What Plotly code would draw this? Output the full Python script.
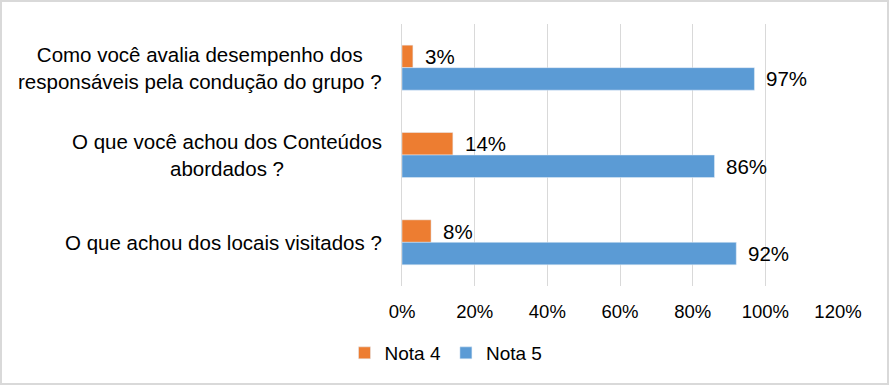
import plotly.graph_objects as go

categories = [
    "Como você avalia desempenho dos<br>responsáveis pela condução do grupo ?",
    "O que você achou dos Conteúdos<br>abordados ?",
    "O que achou dos locais visitados ?",
]
nota4 = [0.03, 0.14, 0.08]
nota5 = [0.97, 0.86, 0.92]
x_ticks = [0, 0.2, 0.4, 0.6, 0.8, 1.0, 1.2]
x_tick_labels = ["0%", "20%", "40%", "60%", "80%", "100%", "120%"]

W, H = 889, 385
L, R, T, B = 402, 51, 24, 99
pw, ph = W - L - R, H - T - B
BAND = ph / len(categories)
BAR_PX = 22.5

FONT = "Liberation Sans, Arial, sans-serif"
ORANGE = "#ED7D31"
BLUE = "#5B9BD5"

fig = go.Figure()
fig.add_trace(go.Bar(y=categories, x=nota4, name="Nota 4", orientation="h",
                     marker_color=ORANGE))
fig.add_trace(go.Bar(y=categories, x=nota5, name="Nota 5", orientation="h",
                     marker_color=BLUE))

annotations = []
for c in categories:
    annotations.append(dict(
        x=0, xref="paper", y=c, yref="y", text=c, showarrow=False,
        xanchor="right", yanchor="middle", align="center", xshift=-18,
        font=dict(size=20.5, color="#000000", family=FONT),
    ))
for vals, shift in ((nota4, BAR_PX / 2), (nota5, -BAR_PX / 2)):
    for c, v in zip(categories, vals):
        annotations.append(dict(
            x=v, xref="x", y=c, yref="y", text=f"{round(v * 100)}%",
            showarrow=False, xanchor="left", yanchor="middle",
            xshift=10, yshift=shift,
            font=dict(size=20.5, color="#000000", family=FONT),
        ))

fig.update_layout(
    width=W, height=H,
    margin=dict(l=L, r=R, t=T, b=B),
    paper_bgcolor="white", plot_bgcolor="white",
    barmode="group", bargap=1 - 2 * BAR_PX / BAND, bargroupgap=0,
    font=dict(family=FONT, size=18.5, color="#000000"),
    showlegend=True,
    legend=dict(orientation="h", xref="container", x=446 / W, xanchor="center",
                yref="container", y=1 - 353 / H, yanchor="middle",
                font=dict(size=19), itemwidth=30, traceorder="normal"),
    annotations=annotations,
    shapes=[dict(type="rect", xref="paper", yref="paper",
                 x0=(1 - L) / pw, x1=(W - 1 - L) / pw,
                 y0=-(H - 1 - T - ph) / ph, y1=(T - 1) / ph + 1,
                 line=dict(color="#D9D9D9", width=2))],
)
fig.update_xaxes(range=[0, 1.2], tickvals=x_ticks, ticktext=x_tick_labels,
                 showgrid=True, gridcolor="#D9D9D9", gridwidth=1,
                 zeroline=False, showline=False, ticks="",
                 ticklabelstandoff=12, tickfont=dict(size=18.5))
fig.update_yaxes(autorange="reversed", showticklabels=False, showgrid=False,
                 zeroline=False, showline=True, linecolor="#D9D9D9", linewidth=1, ticks="")

fig.write_html("out.html", config={"displayModeBar": False},
               post_script="document.body.style.margin='0';document.body.style.overflow='hidden';")
